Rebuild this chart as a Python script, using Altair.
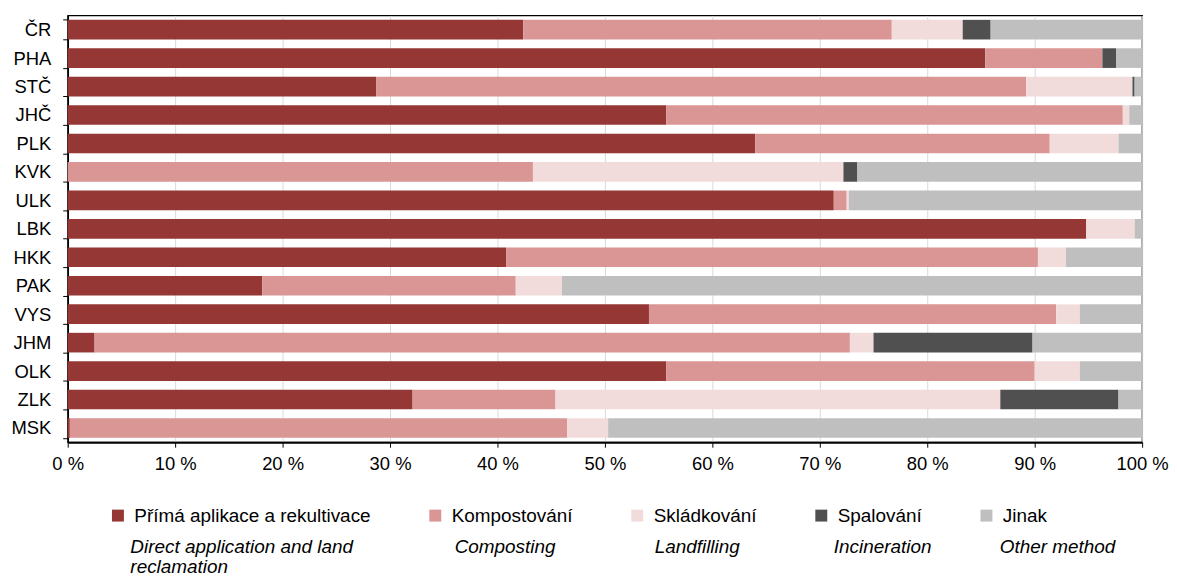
import altair as alt
import pandas as pd

regions = ["ČR", "PHA", "STČ", "JHČ", "PLK", "KVK", "ULK", "LBK",
           "HKK", "PAK", "VYS", "JHM", "OLK", "ZLK", "MSK"]

methods_cz = ["Přímá aplikace a rekultivace", "Kompostování", "Skládkování",
              "Spalování", "Jinak"]
methods_en = ["Direct application and land\nreclamation", "Composting",
              "Landfilling", "Incineration", "Other method"]

direct = [42.4, 85.4, 28.7, 55.7, 64.0, 0.0, 71.3, 94.8, 40.8, 18.1, 54.1, 2.5, 55.7, 32.1, 0.2]
compost = [34.3, 10.9, 60.5, 42.5, 27.4, 43.3, 1.2, 0.0, 49.5, 23.6, 37.9, 70.3, 34.3, 13.3, 46.3]
landfill = [6.6, 0.0, 9.9, 0.6, 6.4, 28.9, 0.2, 4.5, 2.6, 4.3, 2.2, 2.2, 4.2, 41.4, 3.8]
incin = [2.6, 1.3, 0.2, 0.0, 0.0, 1.3, 0.0, 0.0, 0.0, 0.0, 0.0, 14.8, 0.0, 11.0, 0.0]
other = [14.1, 2.4, 0.7, 1.2, 2.2, 26.5, 27.3, 0.7, 7.1, 54.0, 5.8, 10.2, 5.8, 2.2, 49.7]

x_ticks = list(range(0, 101, 10))

colors = ["#953735", "#D99694", "#F2DCDB", "#505050", "#BFBFBF"]
FONT = "Liberation Sans"
FS_AX = 18.5
FS_LG = 19

series = [direct, compost, landfill, incin, other]
rows = []
for mi, (m, vals) in enumerate(zip(methods_cz, series)):
    for r, v in zip(regions, vals):
        rows.append({"region": r, "method": m, "idx": mi, "value": v})
df = pd.DataFrame(rows)

bars = alt.Chart(df).mark_bar().encode(
    y=alt.Y("region:N", sort=regions,
            scale=alt.Scale(paddingInner=0.31, paddingOuter=0.155),
            axis=alt.Axis(title=None, tickBand="extent", grid=False,
                          labelFontSize=FS_AX, labelFont=FONT, labelColor="black",
                          labelPadding=12, tickSize=5, tickColor="black",
                          domainColor="black", domainWidth=1.7)),
    x=alt.X("value:Q", stack="zero",
            scale=alt.Scale(domain=[0, 100], nice=False),
            axis=alt.Axis(title=None, values=x_ticks,
                          labelExpr="datum.value + ' %'", labelFlush=False,
                          labelFontSize=FS_AX, labelFont=FONT, labelColor="black",
                          labelPadding=7, tickSize=5, tickColor="black",
                          domainColor="black", domainWidth=2,
                          grid=True, gridColor="#D9D9D9", gridWidth=1)),
    color=alt.Color("method:N",
                    scale=alt.Scale(domain=methods_cz, range=colors),
                    legend=alt.Legend(orient="none", legendX=41, legendY=493,
                                      direction="horizontal", columns=5,
                                      title=None, symbolType="square",
                                      symbolSize=144, symbolStrokeWidth=0,
                                      labelFontSize=FS_LG, labelFont=FONT,
                                      labelColor="black", labelOffset=7,
                                      columnPadding=55, labelLimit=400)),
    order=alt.Order("idx:Q", sort="ascending"),
)

en_x = [63, 389, 590, 770, 937]
layers = [bars]
for label, xpos in zip(methods_en, en_x):
    layers.append(
        alt.Chart(pd.DataFrame({"t": [label]})).mark_text(
            align="left", baseline="alphabetic", font=FONT, fontSize=FS_LG,
            fontStyle="italic", color="black", lineBreak="\n", lineHeight=20
        ).encode(text="t:N", x=alt.value(xpos), y=alt.value(540))
    )

chart = alt.layer(*layers).properties(
    width=1080, height=429,
    autosize=alt.AutoSizeParams(type="none"),
    padding={"left": 60, "top": 6, "right": 27, "bottom": 133},
).configure_view(stroke="black", strokeWidth=1.3)

chart.save("out.html", embed_options={"renderer": "svg", "actions": False})
